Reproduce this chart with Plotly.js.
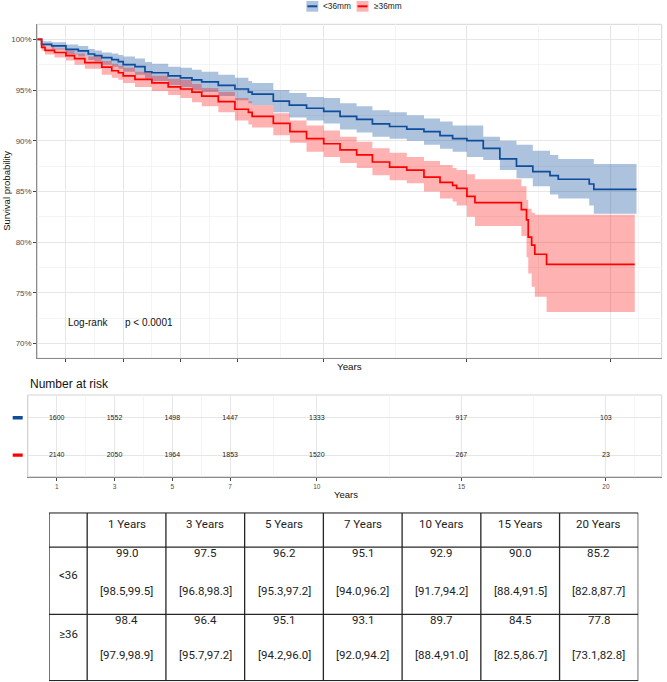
<!DOCTYPE html>
<html>
<head>
<meta charset="utf-8">
<script src="https://cdn.plot.ly/plotly-3.0.1.min.js"></script>
<style>html,body{margin:0;padding:0;background:#fff;}#chart{width:667px;height:682px;}</style>
</head>
<body>
<div id="chart"></div>
<script>
// ---------- data ----------
const groups = ['<36mm', '\u226536mm'];
const rowLabels = ['<36', '\u226536'];
const years = [1, 3, 5, 7, 10, 15, 20];
const riskLess = [1600, 1552, 1498, 1447, 1333, 917, 103];
const riskGe = [2140, 2050, 1964, 1853, 1520, 267, 23];

const survLess = [99.0, 97.5, 96.2, 95.1, 92.9, 90.0, 85.2];
const ciLoLess = [98.5, 96.8, 95.3, 94.0, 91.7, 88.4, 82.8];
const ciHiLess = [99.5, 98.3, 97.2, 96.2, 94.2, 91.5, 87.7];
const survGe = [98.4, 96.4, 95.1, 93.1, 89.7, 84.5, 77.8];
const ciLoGe = [97.9, 95.7, 94.2, 92.0, 88.4, 82.5, 73.1];
const ciHiGe = [98.9, 97.2, 96.0, 94.2, 91.0, 86.7, 82.8];

// Kaplan-Meier curves
const kmTimeLess = [0,0.15,0.5,1.0,1.43,1.78,2.0,2.25,2.6,2.83,3.0,3.41,3.76,4.0,4.57,5.0,5.4,5.74,6.32,6.9,7.37,7.5,8.24,8.8,9.4,10.0,10.57,11.15,11.7,12.3,12.9,13.5,14.06,14.5,15.0,15.57,16.15,16.73,17.3,17.9,18.19,19.27,19.43,20.92];
const kmSurvLess = [100,99.5,99.35,99.0,98.85,98.55,98.4,98.2,98.0,97.8,97.5,97.3,96.8,96.7,96.4,96.2,96.0,95.8,95.45,95.1,94.8,94.6,93.9,93.5,93.2,92.9,92.4,92.1,91.65,91.4,91.15,90.9,90.5,90.2,90.0,89.25,88.2,87.5,86.95,86.55,86.2,85.73,85.2,85.2];
const kmLoLess = [100,99.3,99.0,98.5,98.3,97.95,97.8,97.5,97.3,97.1,96.8,96.5,96.1,95.9,95.5,95.3,95.0,94.8,94.4,94.0,93.7,93.5,92.8,92.3,92.0,91.7,91.1,90.8,90.4,90.2,90.0,89.6,89.2,88.9,88.4,88.1,87.1,86.3,85.5,84.7,84.3,83.6,82.8,82.8];
const kmHiLess = [100,99.8,99.7,99.5,99.35,99.05,98.9,98.7,98.6,98.45,98.3,98.1,97.75,97.6,97.3,97.2,97.0,96.8,96.5,96.2,95.9,95.7,95.0,94.7,94.3,94.2,93.7,93.4,93.0,92.8,92.5,92.2,91.9,91.5,91.5,90.4,90.0,89.6,89.0,88.6,88.2,88.2,87.7,87.7];

const kmTimeGe = [0,0.15,0.27,0.6,1.0,1.3,1.66,2.25,2.6,2.83,3.0,3.41,4.0,4.57,5.0,5.4,5.74,6.32,6.9,7.37,7.5,8.24,8.82,9.4,10.0,10.57,11.15,11.7,12.3,12.9,13.5,14.06,14.5,14.64,15.0,15.28,16.9,17.08,17.14,17.26,17.37,17.78,20.86];
const kmSurvGe = [100,99.2,98.9,98.7,98.4,98.1,97.7,97.25,96.9,96.7,96.4,96.05,95.7,95.3,95.1,94.8,94.4,93.85,93.1,92.8,92.4,91.7,90.9,90.2,89.7,89.1,88.6,87.9,87.4,87.1,86.4,85.9,85.6,85.3,84.5,83.9,83.2,82.2,80.5,79.7,78.8,77.8,77.8];
const kmLoGe = [100,98.9,98.5,98.2,97.9,97.5,97.1,96.5,96.2,96.0,95.7,95.3,94.9,94.5,94.2,93.8,93.4,92.8,92.0,91.6,91.3,90.55,89.8,88.9,88.4,87.8,87.3,86.6,86.1,85.8,85.0,84.3,84.0,83.6,82.5,81.6,80.6,78.5,76.9,75.6,74.6,73.1,73.1];
const kmHiGe = [100,99.5,99.3,99.1,98.9,98.6,98.3,97.85,97.6,97.4,97.2,96.8,96.4,96.1,96.0,95.6,95.2,94.8,94.2,93.9,93.5,92.7,92.0,91.5,91.0,90.4,89.9,89.25,88.8,88.4,88.0,87.6,87.3,87.1,86.7,86.2,85.5,84.15,83.3,82.9,82.7,82.7,82.8];

const yTicks = [70, 75, 80, 85, 90, 95, 100];
const yMinor = [72.5, 77.5, 82.5, 87.5, 92.5, 97.5];
const xMinor = [2, 4, 6, 8.5, 12.5, 17.5, 21];

// ---------- styles ----------
const W = 667, H = 682;
const px = v => v / W;
const py = v => 1 - v / H;
const BLUE = '#0E4D9B', RED = '#FF0000';
const BLUE_FILL = 'rgba(14,77,155,0.34)', RED_FILL = 'rgba(255,0,0,0.30)';
const SANS = 'Liberation Sans, Arial, sans-serif';
const TFONT = 'Roboto, Lato, sans-serif';
const GRID = '#e6e6e6', GRIDMINOR = '#f1f1f1';

const traces = [];
function band(t, lo, hi, fillc) {
  traces.push({x: t, y: hi, type: 'scatter', mode: 'lines', line: {width: 0, shape: 'hv'}, hoverinfo: 'skip', showlegend: false, xaxis: 'x', yaxis: 'y'});
  traces.push({x: t, y: lo, type: 'scatter', mode: 'lines', line: {width: 0, shape: 'hv'}, fill: 'tonexty', fillcolor: fillc, hoverinfo: 'skip', showlegend: false, xaxis: 'x', yaxis: 'y'});
}
band(kmTimeLess, kmLoLess, kmHiLess, BLUE_FILL);
band(kmTimeGe, kmLoGe, kmHiGe, RED_FILL);
traces.push({x: kmTimeLess, y: kmSurvLess, type: 'scatter', mode: 'lines', name: groups[0], line: {color: BLUE, width: 1.7, shape: 'hv'}, showlegend: false, xaxis: 'x', yaxis: 'y'});
traces.push({x: kmTimeGe, y: kmSurvGe, type: 'scatter', mode: 'lines', name: groups[1], line: {color: RED, width: 1.7, shape: 'hv'}, showlegend: false, xaxis: 'x', yaxis: 'y'});

// risk table
traces.push({x: years, y: years.map(() => 2), text: riskLess.map(String), type: 'scatter', mode: 'text', textfont: {family: SANS, size: 7, color: '#222'}, showlegend: false, hoverinfo: 'skip', xaxis: 'x2', yaxis: 'y2'});
traces.push({x: years, y: years.map(() => 1), text: riskGe.map(String), type: 'scatter', mode: 'text', textfont: {family: SANS, size: 7, color: '#222'}, showlegend: false, hoverinfo: 'skip', xaxis: 'x2', yaxis: 'y2'});

const shapes = [];
const annotations = [];

// panel borders
shapes.push({type: 'rect', xref: 'x domain', yref: 'y domain', x0: 0, x1: 1, y0: 0, y1: 1, line: {color: '#d4d4d4', width: 1}, layer: 'below'});
shapes.push({type: 'rect', xref: 'x2 domain', yref: 'y2 domain', x0: 0, x1: 1, y0: 0, y1: 1, line: {color: '#d4d4d4', width: 1}, layer: 'below'});

// legend
function legendItem(x0, x1, tx, color, fill, label) {
  shapes.push({type: 'rect', xref: 'paper', yref: 'paper', x0: px(x0), x1: px(x1), y0: py(11.7), y1: py(1), fillcolor: fill, line: {width: 0}});
  shapes.push({type: 'line', xref: 'paper', yref: 'paper', x0: px(x0 + 1), x1: px(x1 - 1), y0: py(6.3), y1: py(6.3), line: {color: color, width: 2}});
  annotations.push({xref: 'paper', yref: 'paper', x: px(tx), y: py(6.5), text: label, showarrow: false, xanchor: 'left', yanchor: 'middle', font: {family: SANS, size: 8.3, color: '#222'}});
}
legendItem(306.4, 318.3, 320.5, BLUE, BLUE_FILL, groups[0]);
legendItem(356.6, 368.5, 371.5, RED, RED_FILL, groups[1]);

// risk table colour keys
shapes.push({type: 'rect', xref: 'paper', yref: 'y2', x0: px(12.7), x1: px(22.7), y0: 2 - 0.045, y1: 2 + 0.045, fillcolor: BLUE, line: {width: 0}});
shapes.push({type: 'rect', xref: 'paper', yref: 'y2', x0: px(12.7), x1: px(22.7), y0: 1 - 0.045, y1: 1 + 0.045, fillcolor: RED, line: {width: 0}});

// text annotations
function ann(o) { annotations.push(Object.assign({showarrow: false, xanchor: 'center', yanchor: 'middle'}, o)); }
ann({xref: 'paper', yref: 'paper', x: px(6.5), y: py(191.3), text: 'Survival probability', textangle: -90, font: {family: SANS, size: 9.5, color: '#111'}});
ann({xref: 'paper', yref: 'paper', x: px(349.5), y: py(366.7), text: 'Years', font: {family: SANS, size: 9.8, color: '#111'}});
ann({xref: 'x', yref: 'y', x: 1, y: 72.05, text: 'Log-rank', xanchor: 'left', font: {family: SANS, size: 10, color: '#111'}});
ann({xref: 'x', yref: 'y', x: 3, y: 72.05, text: 'p < 0.0001', xanchor: 'left', font: {family: SANS, size: 10, color: '#111'}});
ann({xref: 'paper', yref: 'paper', x: px(27.5), y: py(384.3), text: 'Number at risk', xanchor: 'left', font: {family: SANS, size: 12, color: '#111'}});
ann({xref: 'paper', yref: 'paper', x: px(346), y: py(494.3), text: 'Years', font: {family: SANS, size: 9.5, color: '#111'}});

// ---------- summary table (x3: columns, y3: pixel offset from table top) ----------
const firstColW = 0.485;
const rowB = [0, 34.4, 102.0, 168.7];
const TB = {color: '#262626', width: 1.3};
rowB.forEach(b => shapes.push({type: 'line', xref: 'x3', yref: 'y3', x0: -firstColW, x1: years.length, y0: b, y1: b, line: TB}));
[-firstColW].concat(years.map((d, i) => i), [years.length]).forEach(b => shapes.push({type: 'line', xref: 'x3', yref: 'y3', x0: b, x1: b, y0: 0, y1: rowB[3], line: TB}));
const tf = {family: TFONT, size: 11.5, color: '#222'};
years.forEach((yr, i) => {
  ann({xref: 'x3', yref: 'y3', x: i + 0.5, y: 11.0, text: yr + ' Years', font: tf});
  ann({xref: 'x3', yref: 'y3', x: i + 0.5, y: 40.6, text: survLess[i].toFixed(1), font: tf});
  ann({xref: 'x3', yref: 'y3', x: i + 0.5, y: 78.2, text: '[' + ciLoLess[i].toFixed(1) + ',' + ciHiLess[i].toFixed(1) + ']', font: tf});
  ann({xref: 'x3', yref: 'y3', x: i + 0.5, y: 107.6, text: survGe[i].toFixed(1), font: tf});
  ann({xref: 'x3', yref: 'y3', x: i + 0.5, y: 143.2, text: '[' + ciLoGe[i].toFixed(1) + ',' + ciHiGe[i].toFixed(1) + ']', font: tf});
});
ann({xref: 'x3', yref: 'y3', x: -firstColW / 2, y: 62.0, text: rowLabels[0], font: tf});
ann({xref: 'x3', yref: 'y3', x: -firstColW / 2, y: 122.0, text: rowLabels[1], font: tf});

const layout = {
  width: W, height: H,
  margin: {l: 0, r: 0, t: 0, b: 0},
  paper_bgcolor: '#fff', plot_bgcolor: '#fff',
  showlegend: false,
  xaxis: {
    domain: [px(37.3), px(661.7)], range: [0, 21.8], anchor: 'y',
    tickmode: 'array', tickvals: years, showticklabels: false,
    ticks: 'outside', ticklen: 3, tickcolor: '#444', tickwidth: 1,
    showgrid: true, gridcolor: GRID, gridwidth: 1, zeroline: false,
    showline: true, linecolor: '#8a8a8a', linewidth: 1,
    minor: {tickmode: 'array', tickvals: xMinor, showgrid: true, gridcolor: GRIDMINOR, gridwidth: 0.8, ticks: ''}
  },
  yaxis: {
    domain: [py(358.3), py(24.3)], range: [68.54, 101.48], anchor: 'x',
    tickmode: 'array', tickvals: yTicks, ticktext: yTicks.map(v => v + '%'),
    ticks: 'outside', ticklen: 3, tickcolor: '#444', tickwidth: 1,
    tickfont: {family: SANS, size: 8, color: '#4d4d4d'},
    showgrid: true, gridcolor: GRID, gridwidth: 1, zeroline: false,
    showline: true, linecolor: '#8a8a8a', linewidth: 1,
    minor: {tickmode: 'array', tickvals: yMinor, showgrid: true, gridcolor: GRIDMINOR, gridwidth: 0.8, ticks: ''}
  },
  xaxis2: {
    domain: [px(27.8), px(661.7)], range: [0, 21.93], anchor: 'y2',
    tickmode: 'array', tickvals: years,
    ticks: 'outside', ticklen: 3, tickcolor: '#444', tickwidth: 1,
    tickfont: {family: SANS, size: 6.5, color: '#4d4d4d'},
    showgrid: true, gridcolor: GRID, gridwidth: 1, zeroline: false,
    showline: true, linecolor: '#8a8a8a', linewidth: 1,
    minor: {tickmode: 'array', tickvals: xMinor, showgrid: true, gridcolor: GRIDMINOR, gridwidth: 0.8, ticks: ''}
  },
  yaxis2: {
    domain: [py(476.7), py(395)], range: [0.42, 2.61], anchor: 'x2',
    tickmode: 'array', tickvals: [1, 2], showticklabels: false, ticks: '',
    showgrid: true, gridcolor: GRID, gridwidth: 1, zeroline: false,
    showline: true, linecolor: '#d4d4d4', linewidth: 1
  },
  xaxis3: {domain: [px(49), px(638.3)], range: [-firstColW, years.length], anchor: 'y3', visible: false, fixedrange: true},
  yaxis3: {domain: [py(681.3), py(512.3)], range: [rowB[3] + 0.6, -0.6], anchor: 'x3', visible: false, fixedrange: true},
  shapes: shapes,
  annotations: annotations
};

Plotly.newPlot('chart', traces, layout, {displayModeBar: false, staticPlot: true});
</script>
</body>
</html>
